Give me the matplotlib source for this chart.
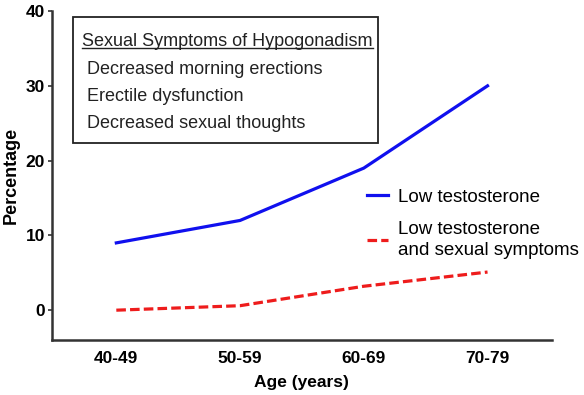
import matplotlib.pyplot as plt
from matplotlib.lines import Line2D
from matplotlib.patches import Rectangle

plt.rcParams['font.family'] = ['Liberation Sans', 'DejaVu Sans']

grupos = ["40-49", "50-59", "60-69", "70-79"]
baixa_testo = [9, 12, 19, 30]
baixa_testo_sintomas = [0, 0.6, 3.2, 5.1]
sintomas = ["Decreased morning erections", "Erectile dysfunction", "Decreased sexual thoughts"]

fig = plt.figure(figsize=(5.84, 3.95), dpi=100)
ax = fig.add_axes([0.089, 0.139, 0.856, 0.833])

x = range(len(grupos))
ax.plot(x, baixa_testo, color='#1010ee', lw=2.3, label="Low testosterone")
ax.plot(x, baixa_testo_sintomas, color='#ee1c1c', lw=2.3, ls=(0, (3, 1.3)),
        label="Low testosterone\nand sexual symptoms")

ax.set_xlim(-0.52, 3.52)
ax.set_ylim(-4, 40)
ax.set_yticks([0, 10, 20, 30, 40])
ax.set_xticks(list(x))
ax.set_xticklabels(grupos)
for s in ['top', 'right']:
    ax.spines[s].set_visible(False)
for s in ['left', 'bottom']:
    ax.spines[s].set_linewidth(1.8)
    ax.spines[s].set_color('#333333')
ax.tick_params(labelsize=12.5, width=1.2, length=3, color='#333333', pad=2)
for t in ax.get_xticklabels() + ax.get_yticklabels():
    t.set_fontweight('bold')
ax.tick_params(axis='x', length=0, pad=8)
ax.set_xlabel("Age (years)", fontsize=12.5, fontweight='bold', labelpad=6)
ax.set_ylabel("Percentage", fontsize=13, fontweight='bold', labelpad=4)

# caixa de sintomas
fig.patches.append(Rectangle((73/584, 1-143/395), 305/584, 126/395, transform=fig.transFigure,
                             fill=False, lw=1.3, ec='#222222'))
titulo = fig.text(82/584, 1-41/395, "Sexual Symptoms of Hypogonadism", fontsize=13,
                  va='center', ha='left', color='#222222')
for i, s in enumerate(sintomas):
    fig.text(87/584, 1-(69+27.5*i)/395, s, fontsize=13, va='center', ha='left', color='#222222')

fig.canvas.draw()
bb = titulo.get_window_extent().transformed(fig.transFigure.inverted())
fig.lines.append(Line2D([bb.x0, bb.x1], [bb.y0 + 0.004, bb.y0 + 0.004], transform=fig.transFigure,
                        color='#222222', lw=1.0))

leg = ax.legend(loc='upper left', bbox_to_anchor=(358/584, 1-179/395), bbox_transform=fig.transFigure,
                frameon=False, fontsize=13.5, handlelength=1.1, handletextpad=0.55, labelspacing=0.85,
                borderpad=0)
for t in leg.get_texts():
    t.set_linespacing(1.3)

fig.savefig("out.png", dpi=100)
